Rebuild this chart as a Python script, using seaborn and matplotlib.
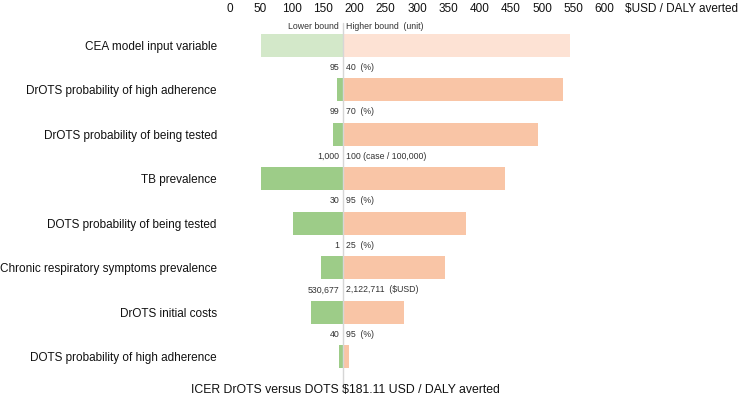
import numpy as np
import matplotlib.pyplot as plt
import pandas as pd
import seaborn as sns

sns.set_style("white")
plt.rcParams['font.family'] = ['Liberation Sans', 'DejaVu Sans']

icer = 181.11

variables = ["CEA model input variable",
             "DrOTS probability of high adherence",
             "DrOTS probability of being tested",
             "TB prevalence",
             "DOTS probability of being tested",
             "Chronic respiratory symptoms prevalence",
             "DrOTS initial costs",
             "DOTS probability of high adherence"]
low_icer = [50, 172, 165, 50, 102, 147, 130, 175]
high_icer = [545, 533, 494, 441, 379, 345, 279, 191]
low_labels = ["Lower bound", "95", "99", "1,000", "30", "1", "530,677", "40"]
high_labels = ["Higher bound  (unit)", "40  (%)", "70  (%)", "100 (case / 100,000)",
               "95  (%)", "25  (%)", "2,122,711  ($USD)", "95  (%)"]
ticks = [0, 50, 100, 150, 200, 250, 300, 350, 400, 450, 500, 550, 600]

df = pd.DataFrame({"variable": variables, "low": low_icer, "high": high_icer,
                   "icer": [icer] * len(variables)})

green = "#9dcc88"
orange = "#f9c5a6"
green_light = "#d3e8c9"
orange_light = "#fde2d4"
high_cols = [orange_light] + [orange] * (len(variables) - 1)
low_cols = [green_light] + [green] * (len(variables) - 1)

fig = plt.figure(figsize=(7.4, 4.01), dpi=100)
ax = fig.add_axes([0.3099, 0.0549, 0.5494, 0.888])

# layered bars: high end, then icer-to-low in green, then white up to low
sns.barplot(data=df, x="high", y="variable", hue="variable", palette=high_cols,
            legend=False, width=0.52, linewidth=0, saturation=1, ax=ax)
sns.barplot(data=df, x="icer", y="variable", hue="variable", palette=low_cols,
            legend=False, width=0.52, linewidth=0, saturation=1, ax=ax)
sns.barplot(data=df, x="low", y="variable", color="white", saturation=1,
            width=0.54, linewidth=0, ax=ax)

ax.axvline(icer, color="#d6d6d6", lw=1, ymin=-0.03, ymax=1.0, clip_on=False, zorder=5)

ax.set_xlim(0, 650)
ax.set_ylim(len(variables) - 0.5, -0.5)
ax.set_xticks(ticks)
ax.xaxis.tick_top()
ax.tick_params(axis="x", length=0, pad=6, labelsize=8.5, colors="#111111")
ax.tick_params(axis="y", length=0, pad=9, labelsize=8.5, colors="#111111")
ax.set_xlabel("")
ax.set_ylabel("")
sns.despine(ax=ax, left=True, bottom=True, top=True, right=True)

for i in range(len(variables)):
    y = -0.43 if i == 0 else i - 0.5
    ax.annotate(low_labels[i], (icer, y), xytext=(-2.5, 0), textcoords="offset points",
                ha="right", va="center", fontsize=6.3, color="#333333")
    ax.annotate(high_labels[i], (icer, y), xytext=(2.5, 0), textcoords="offset points",
                ha="left", va="center", fontsize=6.3, color="#333333")

fig.text(625 / 740, 1 - 9 / 401, "$USD / DALY averted", ha="left", va="center",
         fontsize=8.5, color="#111111")
fig.text(345 / 740, 1 - 390 / 401, "ICER DrOTS versus DOTS $181.11 USD / DALY averted",
         ha="center", va="center", fontsize=8.8, color="#111111")

fig.savefig("out.png", dpi=100)
